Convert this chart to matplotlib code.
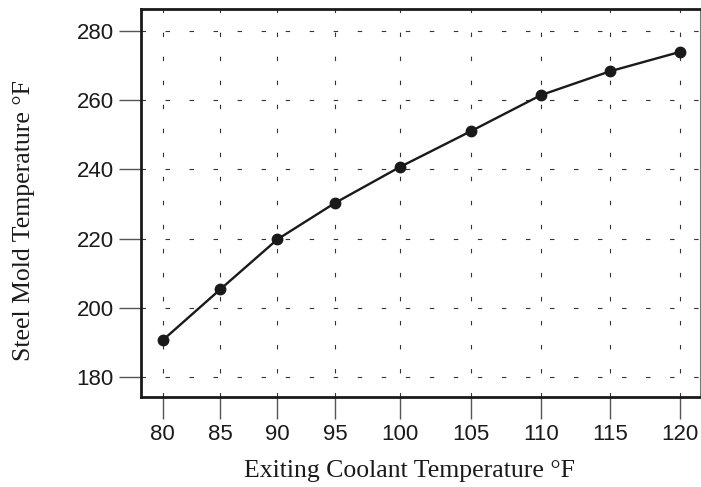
import matplotlib
matplotlib.use("Agg")
import matplotlib.pyplot as plt
import numpy as np

# data
coolant_temp = [80, 85, 90, 95, 100, 105, 110, 115, 120]
mold_temp = [190.6, 205.3, 219.8, 230.3, 240.7, 251.1, 261.5, 268.4, 274.0]

x_ticks = [80, 85, 90, 95, 100, 105, 110, 115, 120]
y_ticks = [180, 200, 220, 240, 260, 280]

# the printed x axis is not evenly spaced, so map it piecewise
knot_vals = [40, 78.1, 80, 85, 90, 95, 100, 105, 110, 115, 120, 121.43, 160]
knot_pos = [-320, 140, 161.7, 219.3, 276.7, 334.3, 399.3, 470.7, 540.7, 610, 680, 700, 1240]


def fwd(x):
    return np.interp(x, knot_vals, knot_pos)


def inv(p):
    return np.interp(p, knot_pos, knot_vals)


plt.rcParams['lines.scale_dashes'] = False

fig = plt.figure(figsize=(7.01, 4.87), dpi=100)
ax = fig.add_axes([141 / 701, 1 - 397 / 487, (700 - 141) / 701, (397 - 9) / 487])

ax.set_xscale('function', functions=(fwd, inv))
ax.set_xlim(78.1, 121.43)
ax.set_ylim(174.2, 286.4)

ax.plot(coolant_temp, mold_temp, '-o', color='#1a1a1a', lw=1.7, ms=7.5, zorder=3)

ax.set_xticks(x_ticks)
ax.set_yticks(y_ticks)
ax.set_xticklabels([str(v) for v in x_ticks])
ax.set_yticklabels([str(v) for v in y_ticks])
ax.minorticks_off()

ax.grid(True, color='#333333', lw=0.8, linestyle=(0, (3.2, 14.1)))

for side in ['left', 'bottom', 'top']:
    ax.spines[side].set_linewidth(2.0)
    ax.spines[side].set_color('#1a1a1a')
ax.spines['right'].set_linewidth(0.8)
ax.spines['right'].set_color('#777777')

ax.tick_params(axis='both', direction='out', length=15.5, width=1.0, color='#555555',
               labelsize=16, labelcolor='#1a1a1a', pad=4)
for lab in ax.get_xticklabels() + ax.get_yticklabels():
    lab.set_family('Liberation Sans')

ax.set_xlabel('Exiting Coolant Temperature °F', family='Liberation Serif', fontsize=18.5,
              color='#1a1a1a', labelpad=11)
ax.set_ylabel('Steel Mold Temperature °F', family='Liberation Serif', fontsize=18.5,
              color='#1a1a1a', labelpad=30)
ax.xaxis.label.set_x(0.481)
ax.yaxis.label.set_y(0.456)

fig.savefig('out.png', dpi=100)
